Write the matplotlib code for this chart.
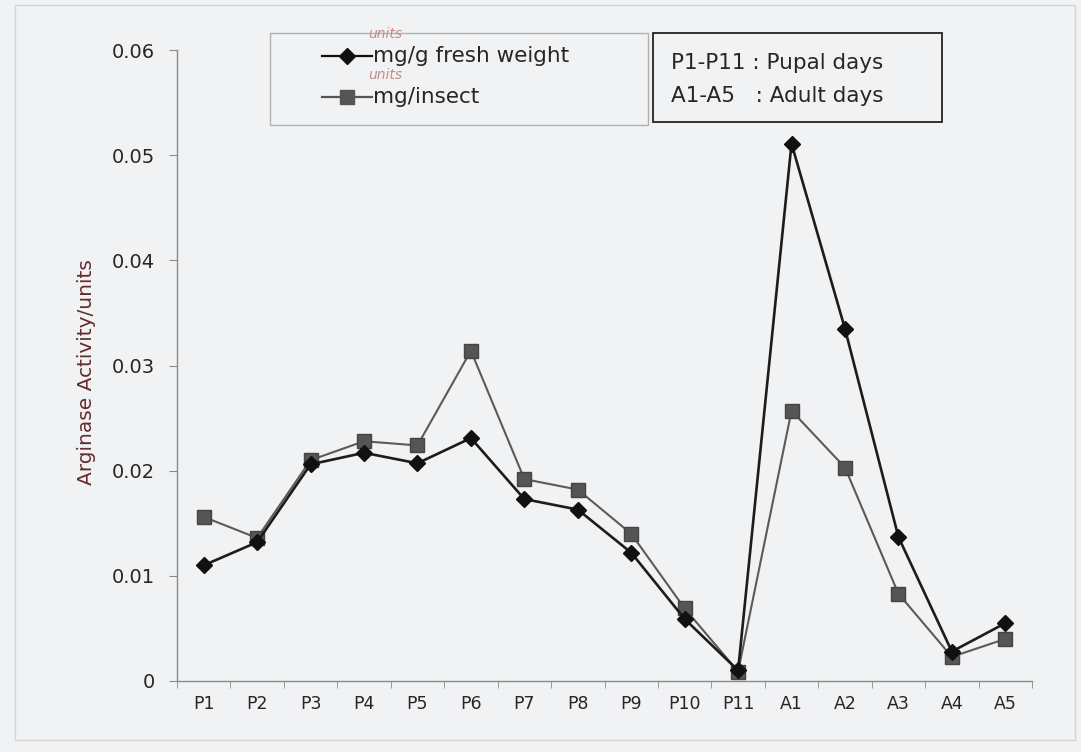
import matplotlib
matplotlib.use("Agg")
import matplotlib.pyplot as plt
import numpy as np
from matplotlib.patches import Rectangle

# --- data ---------------------------------------------------------------------
days = ["P1", "P2", "P3", "P4", "P5", "P6", "P7", "P8", "P9", "P10", "P11",
        "A1", "A2", "A3", "A4", "A5"]
fresh_weight = [0.0110, 0.0132, 0.0206, 0.0217, 0.0207, 0.0231, 0.0173, 0.0163,
                0.0122, 0.0059, 0.0010, 0.0511, 0.0335, 0.0137, 0.0028, 0.0055]
per_insect = [0.0156, 0.0136, 0.0210, 0.0228, 0.0224, 0.0314, 0.0192, 0.0182,
              0.0140, 0.0069, 0.0009, 0.0257, 0.0203, 0.0083, 0.0023, 0.0040]
y_ticks = [0, 0.01, 0.02, 0.03, 0.04, 0.05, 0.06]

BG = "#f1f2f4"
AXIS = "#8a8a8a"
TXT = "#262626"

W, H = 1081, 752


def fx(px):
    return px / W


def fy(px):
    return 1 - px / H


fig = plt.figure(figsize=(W / 100, H / 100), dpi=100, facecolor=BG)
ax = fig.add_axes([fx(177), fy(681), fx(1032 - 177), (681 - 50) / H])
ax.set_facecolor(BG)

x = np.arange(len(days))
ax.plot(x, fresh_weight, color="#1c1c1c", lw=1.9, marker="D", ms=8,
        mfc="#111111", mec="#111111", zorder=3)
ax.plot(x, per_insect, color="#5a5a5a", lw=1.5, marker="s", ms=10,
        mfc="#555555", mec="#444444", zorder=2)

ax.set_xlim(-0.5, len(days) - 0.5)
ax.set_ylim(0, 0.06)
ax.set_yticks(y_ticks)
ax.set_yticklabels(["0"] + [f"{v:.2f}" for v in y_ticks[1:]], fontsize=14,
                   color=TXT)
ax.set_xticks(x)
ax.set_xticklabels(days, fontsize=12.5, color=TXT)
ax.set_xticks(np.arange(-0.5, len(days)), minor=True)
ax.tick_params(axis="x", which="major", length=0, pad=10)
ax.tick_params(axis="x", which="minor", length=5, color=AXIS, direction="out")
ax.tick_params(axis="y", length=6, color=AXIS, pad=10)

for side in ("top", "right"):
    ax.spines[side].set_visible(False)
for side in ("left", "bottom"):
    ax.spines[side].set_color(AXIS)
    ax.spines[side].set_linewidth(1.0)

fig.text(fx(86), fy(372), "Arginase Activity/units", fontsize=14.5,
         color="#652c2c", rotation=90, ha="center", va="center")

# legend box (drawn by hand so it sits where the original one is)
fig.patches.append(Rectangle((fx(270), fy(125)), fx(378), 92 / H,
                             transform=fig.transFigure, facecolor=BG,
                             edgecolor="#b0b0b0", lw=1.0))
leg_rows = [("D", "#111111", 8, "mg/g fresh weight", 56),
            ("s", "#555555", 10, "mg/insect", 97)]
for mk, col, ms, label, ypx in leg_rows:
    fig.add_artist(plt.Line2D([fx(322), fx(372)], [fy(ypx), fy(ypx)], color=col,
                              lw=1.6, transform=fig.transFigure))
    fig.add_artist(plt.Line2D([fx(347)], [fy(ypx)], marker=mk, ms=ms, color=col,
                              transform=fig.transFigure))
    fig.text(fx(373), fy(ypx), label, fontsize=15.5, va="center", color=TXT)
    fig.text(fx(368), fy(ypx - 22), "units", fontsize=10, style="italic",
             va="center", color="#c88a8a")

# day key box
fig.text(fx(671), fy(63), "P1-P11 : Pupal days", fontsize=15.5, va="center",
         color=TXT)
fig.text(fx(671), fy(96), "A1-A5   : Adult days", fontsize=15.5, va="center",
         color=TXT)
fig.patches.append(Rectangle((fx(653), fy(122)), fx(289), 89 / H,
                             transform=fig.transFigure, facecolor="none",
                             edgecolor="#222222", lw=1.3))

# faint outer frame of the chart area
fig.patches.append(Rectangle((fx(15), fy(740)), fx(1060), 735 / H,
                             transform=fig.transFigure, facecolor="none",
                             edgecolor="#d4d4d4", lw=1.0))

fig.savefig("out.png", dpi=100, facecolor=BG)
